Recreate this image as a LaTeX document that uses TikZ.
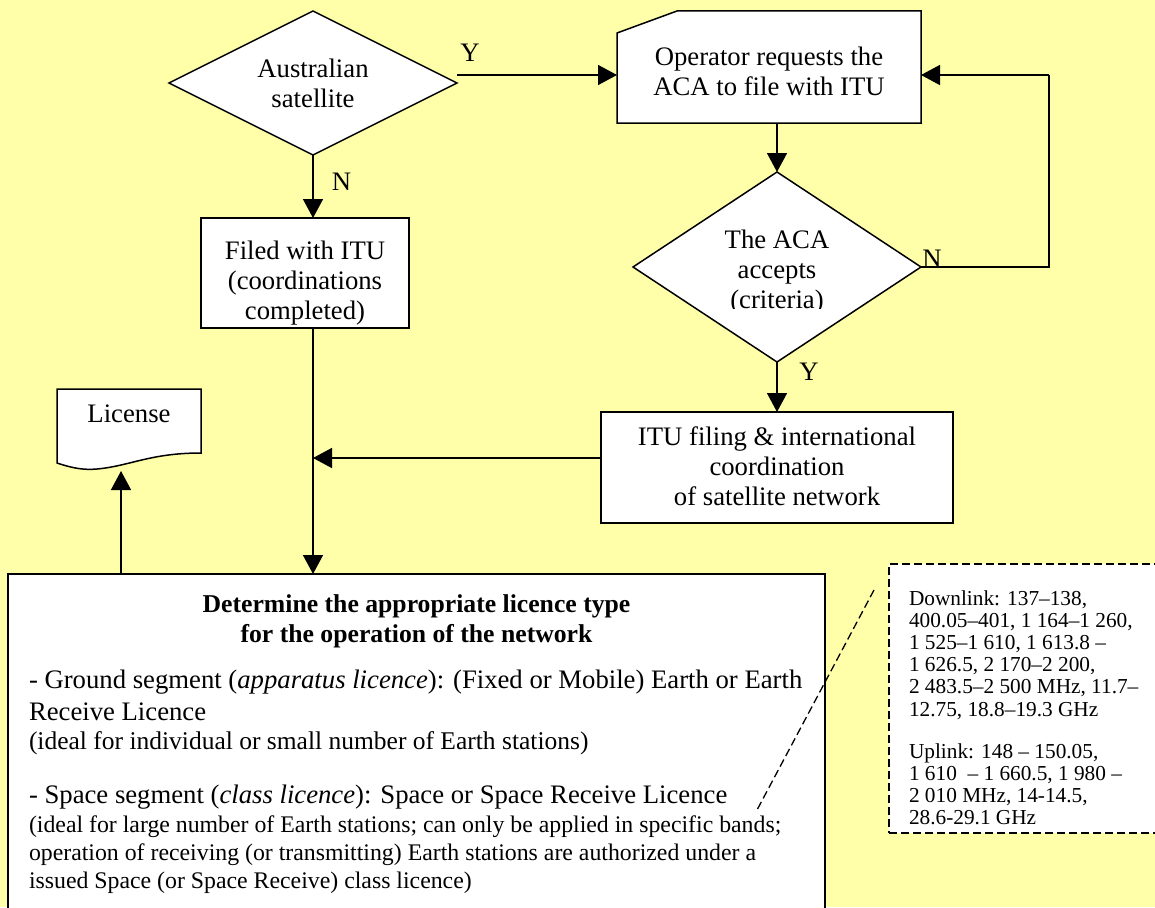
\documentclass[tikz,border=0pt]{standalone}
\usepackage{fontspec}
\setmainfont{Liberation Serif}
\usetikzlibrary{shapes.geometric,arrows.meta,calc}
\definecolor{bg}{RGB}{255,255,170}
\newcommand{\ctab}[1]{\begin{tabular}[t]{@{}c@{}}#1\end{tabular}}
\newcommand{\ltab}[1]{\begin{tabular}[t]{@{}l@{}}#1\end{tabular}}
\begin{document}
\begin{tikzpicture}[x=1pt,y=-1pt,
  shp/.style={draw, line width=1.5pt, fill=white, inner sep=0pt, outer sep=0pt},
  ghost/.style={inner sep=0pt, outer sep=0pt, rectangle},
  dia/.style={shp, diamond, shape aspect=2},
  txt/.style={inner sep=0pt, outer sep=0pt, anchor=base, font=\fontsize{26.7}{30}\selectfont},
  body/.style={inner sep=0pt, outer sep=0pt, anchor=base west, font=\fontsize{26.7}{30}\selectfont},
  small/.style={inner sep=0pt, outer sep=0pt, anchor=base west, font=\fontsize{23.8}{27}\selectfont},
  rng/.style={inner sep=0pt, outer sep=0pt, anchor=base west, font=\fontsize{21.3}{22.2}\selectfont},
  arr/.style={line width=1.5pt, -{Triangle[length=19pt,width=20pt]}},
  ln/.style={line width=1.5pt},
  dsh/.style={line width=1.3pt, dash pattern=on 8pt off 4pt}
]
\useasboundingbox (0,0) rectangle (1155,907);
\fill[bg] (0,0) rectangle (1155,907);
\clip (0,0) rectangle (1155,907);

% shapes
\node[dia, minimum width=288pt, minimum height=144pt] (aus) at (313,83) {};
\node[ghost, minimum width=304pt, minimum height=112pt] (op) at (769,67) {};
\filldraw[ln, fill=white] (op.south west) -- ($(op.north west)+(0,22)$) -- ($(op.north west)+(60,0)$) -- (op.north east) -- (op.south east) -- cycle;
\node[shp, minimum width=208pt, minimum height=110pt] (filed) at (305,273) {};
\node[dia, minimum width=288pt, minimum height=190pt] (aca) at (777,267) {};
\node[shp, minimum width=352pt, minimum height=111pt] (itu) at (777,467.5) {};
\node[ghost, minimum width=144pt, minimum height=64pt] (lic) at (129,421) {};
\filldraw[ln, fill=white] (lic.south east) -- (lic.north east) -- (lic.north west) -- (57,463)
  .. controls (75,469) and (85,470) .. (97,469) .. controls (130,466) and (150,453) .. (lic.south east) -- cycle;
\node[shp, minimum width=817pt, minimum height=380pt] (det) at (416.5,764) {};
\node[shp, dsh, minimum width=290pt, minimum height=269pt] (rngbox) at (1034,698.5) {};

% texts
\node[txt] (aust) at (313,77) {\ctab{Australian\\satellite}};
\node[txt] (opt) at (769,65) {\ctab{Operator requests the\\ACA to file with ITU}};
\node[txt] (filedt) at (305,259) {\ctab{Filed with ITU\\(coordinations\\completed)}};
\begin{scope}
  \clip (650,220) rectangle (900,308.8);
  \node[txt] (acat) at (777,248) {\ctab{The ACA\\accepts\\(criteria)}};
\end{scope}
\node[txt] (itut) at (777,445) {\ctab{ITU filing \& international\\coordination\\of satellite network}};
\node[txt] (lict) at (129,422) {License};

\node[txt, font=\fontsize{25.7}{30}\selectfont] (h1) at (416.5,612) {\ctab{\bfseries Determine the appropriate licence type\\\bfseries for the operation of the network}};
\node[body] (b1) at (29,688) {- Ground segment (\textit{apparatus licence}): (Fixed or Mobile) Earth or Earth};
\node[body] (b2) at (29,720) {Receive Licence};
\node[small, font=\fontsize{25.5}{28}\selectfont] (b3) at (29,749) {(ideal for individual or small number of Earth stations)};
\node[body] (b4) at (29,803) {- Space segment (\textit{class licence}): Space or Space Receive Licence};
\node[small] (b5) at (29,832) {(ideal for large number of Earth stations; can only be applied in specific bands;};
\node[small] (b6) at (29,860) {operation of receiving (or transmitting) Earth stations are authorized under a};
\node[small] (b7) at (29,888) {issued Space (or Space Receive) class licence)};

\node[rng] (dl) at (909,605) {\ltab{Downlink: 137–138,\\400.05–401, 1 164–1 260,\\1 525–1 610, 1 613.8 –\\1 626.5, 2 170–2 200,\\2 483.5–2 500 MHz, 11.7–\\12.75, 18.8–19.3 GHz}};
\node[rng] (ul) at (909,758) {\ltab{Uplink: 148 – 150.05,\\1 610 \ – 1 660.5, 1 980 –\\2 010 MHz, 14-14.5,\\28.6-29.1 GHz}};

% labels
\node[txt] (ly1) at (470,62) {Y};
\node[txt] (ln1) at (341.5,190) {N};
\node[txt] (ln2) at (932,267) {N};
\node[txt] (ly2) at (809,380) {Y};

% connectors
\coordinate (opy) at (0,75);
\coordinate (loopc) at (1049,75);
\coordinate (jn) at (313,458);
\coordinate (licb) at (121,471);
\coordinate (dlA) at (874,590);
\coordinate (dlB) at (757,810);
\draw[arr] (aus.east |- opy) -- (op.west |- opy);
\draw[arr] (aus.south) -- (aus.south |- filed.north);
\draw[arr] (aca.north |- op.south) -- (aca.north);
\draw[ln] (aca.east) -| (loopc);
\draw[arr] (loopc) -- (op.east |- loopc);
\draw[arr] (aca.south) -- (aca.south |- itu.north);
\draw[arr] (itu.west |- jn) -- (jn);
\draw[arr] (jn |- filed.south) -- (jn |- det.north);
\draw[arr] (licb |- det.north) -- (licb);
\draw[dsh] (dlA) -- (dlB);
\end{tikzpicture}
\end{document}
